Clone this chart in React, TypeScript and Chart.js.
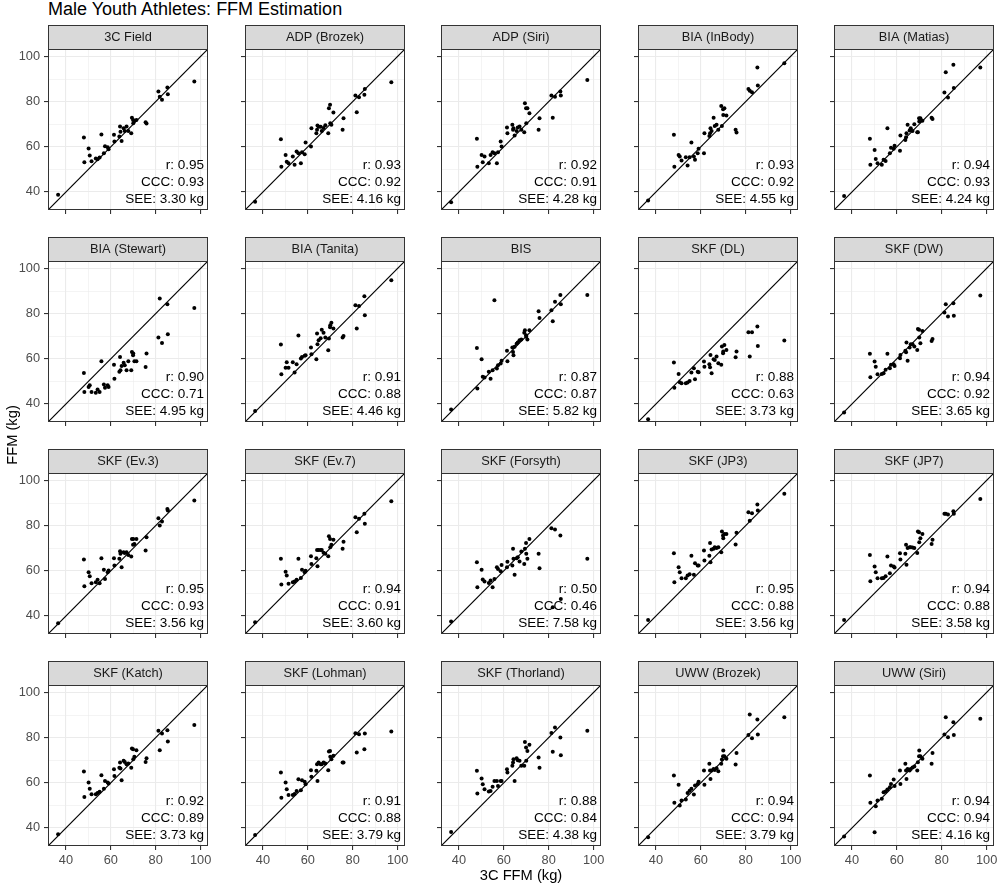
import React, { useEffect, useRef } from "react";
import { Chart, registerables } from "chart.js";

Chart.register(...registerables);

// ---------- DATA ----------
// Criterion: 3C FFM (kg), shared x values of all panels
const X_3C_FFM = [36.5, 48.0, 48.2, 50.1, 50.6, 51.4, 53.3, 54.1, 55.0, 55.8, 56.9, 57.4, 58.6, 59.0, 61.4, 61.6, 63.8, 64.1, 64.3, 64.8, 65.7, 66.2, 67.0, 67.8, 69.1, 69.4, 69.9, 70.0, 70.5, 71.4, 75.5, 75.9, 81.2, 81.8, 82.8, 85.2, 85.4, 97.2];

const Y_3C_FIELD = [38.7, 64.1, 53.1, 59.2, 56.1, 53.6, 54.8, 54.5, 55.2, 65.4, 57.1, 60.2, 59.8, 58.9, 65.3, 62.3, 64.5, 69.0, 66.7, 62.6, 68.2, 67.0, 69.0, 67.0, 66.0, 72.9, 71.9, 70.4, 71.5, 71.9, 70.9, 70.3, 84.5, 82.2, 80.8, 86.2, 83.3, 88.9];
const Y_ADP_BROZEK = [35.7, 63.3, 51.2, 56.4, 53.4, 52.7, 55.7, 52.0, 57.9, 57.1, 52.7, 57.6, 56.7, 61.9, 60.1, 68.2, 66.0, 67.5, 69.4, 68.9, 68.9, 67.0, 68.3, 69.5, 66.0, 77.1, 78.6, 70.4, 69.7, 75.2, 67.5, 72.6, 82.7, 75.3, 81.9, 83.0, 85.6, 88.6];
const Y_ADP_SIRI = [35.4, 63.5, 51.2, 56.4, 53.1, 55.7, 52.7, 56.4, 57.6, 57.1, 52.7, 57.6, 62.3, 60.1, 68.5, 66.0, 69.7, 67.5, 68.2, 65.0, 67.0, 68.5, 69.0, 67.5, 66.4, 79.3, 77.1, 70.4, 77.1, 74.9, 67.5, 72.6, 82.7, 72.9, 82.2, 84.5, 82.7, 89.6];
const Y_BIA_INBODY = [36.2, 65.3, 51.2, 56.4, 55.7, 53.9, 55.4, 51.7, 55.4, 61.9, 55.7, 54.2, 57.1, 59.1, 57.1, 66.0, 64.8, 66.0, 68.2, 67.0, 72.9, 69.2, 69.7, 67.5, 78.1, 69.2, 76.6, 74.1, 77.1, 73.8, 67.5, 66.3, 85.6, 84.8, 84.2, 95.1, 87.1, 97.0];
const Y_BIA_MATIAS = [38.2, 63.5, 52.0, 58.6, 54.6, 52.7, 52.0, 54.2, 53.7, 68.2, 57.1, 59.6, 59.1, 60.5, 58.2, 65.0, 63.0, 64.2, 66.0, 69.7, 67.2, 68.2, 67.0, 70.0, 66.4, 66.4, 72.6, 71.2, 72.6, 71.5, 72.9, 72.3, 84.0, 93.0, 81.8, 96.3, 86.0, 95.1];
const Y_BIA_STEWART = [30.0, 53.7, 45.3, 47.5, 48.3, 45.3, 44.9, 46.4, 45.3, 58.9, 48.6, 47.2, 48.3, 47.5, 57.4, 51.2, 54.2, 60.8, 54.9, 56.8, 58.2, 57.1, 54.9, 58.9, 54.9, 63.0, 61.6, 62.3, 58.9, 58.9, 56.4, 62.3, 69.4, 86.7, 67.0, 84.2, 70.9, 82.5];
const Y_BIA_TANITA = [36.9, 66.3, 53.1, 56.0, 58.5, 56.0, 58.5, 53.9, 57.6, 70.3, 60.1, 60.8, 61.3, 61.6, 65.0, 62.0, 59.8, 71.2, 66.4, 68.2, 69.1, 72.9, 71.5, 69.4, 63.8, 69.0, 74.0, 74.9, 75.9, 73.4, 69.4, 70.1, 83.7, 73.4, 83.4, 87.7, 79.3, 94.8];
const Y_BIS = [37.5, 64.8, 46.8, 59.8, 52.0, 51.7, 54.2, 51.2, 54.9, 85.9, 55.7, 57.1, 57.9, 59.1, 63.5, 58.9, 65.0, 63.0, 61.6, 65.3, 66.7, 67.2, 68.2, 68.5, 71.5, 72.6, 70.4, 69.7, 68.5, 72.6, 81.1, 78.1, 81.5, 76.6, 85.2, 88.2, 84.2, 88.2];
const Y_SKF_DL = [33.2, 58.3, 47.2, 53.3, 49.6, 49.2, 49.2, 49.5, 50.2, 53.9, 55.8, 50.9, 54.3, 54.0, 58.8, 56.5, 57.6, 56.2, 61.7, 53.6, 59.8, 59.5, 61.0, 58.0, 57.3, 65.4, 62.5, 63.2, 66.1, 63.9, 60.7, 63.2, 71.8, 61.0, 71.8, 74.3, 65.7, 68.1];
const Y_SKF_DW = [36.2, 62.2, 51.8, 58.8, 56.5, 53.1, 53.3, 53.6, 55.1, 62.2, 55.8, 57.3, 57.6, 56.8, 60.2, 61.7, 63.5, 62.9, 67.2, 59.1, 65.0, 66.4, 66.4, 65.4, 63.9, 73.2, 72.8, 69.4, 66.9, 72.3, 67.9, 68.8, 80.5, 84.2, 78.7, 84.6, 79.1, 88.0];
const Y_SKF_EV3 = [36.8, 65.0, 53.1, 59.4, 57.6, 54.5, 54.9, 56.0, 54.5, 65.6, 60.4, 56.4, 59.4, 60.1, 65.6, 62.3, 65.3, 68.7, 67.5, 61.6, 68.2, 67.9, 68.2, 67.0, 66.3, 74.1, 71.5, 74.1, 71.9, 74.1, 69.0, 74.9, 83.3, 80.0, 81.8, 87.4, 86.7, 91.1];
const Y_SKF_EV7 = [37.2, 65.3, 53.9, 59.6, 57.9, 54.2, 54.9, 55.2, 56.0, 65.3, 56.8, 60.5, 59.4, 60.0, 66.4, 63.0, 65.6, 69.2, 62.0, 69.2, 69.2, 69.2, 68.0, 67.5, 66.4, 75.3, 74.1, 70.4, 71.5, 73.7, 69.7, 72.9, 83.7, 77.1, 83.0, 85.2, 80.8, 90.8];
const Y_SKF_FORSYTH = [37.5, 63.8, 52.7, 60.5, 56.1, 55.2, 54.6, 55.7, 52.7, 56.4, 61.6, 60.8, 59.8, 62.6, 61.6, 64.0, 62.3, 69.7, 65.3, 58.2, 65.6, 66.0, 64.1, 68.5, 63.0, 69.7, 72.3, 67.5, 65.3, 74.1, 67.5, 61.1, 78.8, 43.8, 78.3, 75.6, 47.5, 65.3];
const Y_SKF_JP3 = [38.2, 67.8, 54.9, 61.6, 59.4, 56.7, 56.7, 57.9, 58.5, 66.7, 58.2, 63.3, 62.3, 62.3, 69.0, 64.5, 66.7, 72.3, 63.8, 69.4, 69.7, 70.4, 70.1, 70.4, 68.2, 77.4, 75.6, 74.4, 76.3, 76.3, 71.6, 76.8, 85.9, 82.2, 85.5, 89.3, 86.7, 94.1];
const Y_SKF_JP7 = [38.2, 67.0, 55.4, 61.9, 59.4, 56.7, 56.7, 56.8, 57.6, 66.3, 58.9, 62.3, 61.9, 61.4, 67.8, 65.0, 67.5, 71.5, 62.7, 70.1, 70.4, 70.4, 70.3, 70.1, 67.9, 77.4, 77.1, 72.6, 74.4, 76.3, 71.9, 73.7, 85.2, 85.2, 84.9, 86.4, 85.2, 91.8];
const Y_SKF_KATCH = [37.2, 65.0, 53.7, 60.1, 57.4, 54.9, 54.9, 55.5, 56.0, 63.3, 57.4, 60.8, 60.1, 59.7, 66.0, 63.0, 66.7, 69.0, 66.3, 61.1, 69.7, 69.2, 68.2, 68.5, 66.7, 75.2, 74.9, 70.4, 71.5, 74.4, 69.2, 70.9, 83.0, 74.4, 81.8, 83.3, 78.3, 85.6];
const Y_SKF_LOHMAN = [36.9, 64.5, 53.4, 60.1, 57.1, 54.6, 54.6, 55.0, 56.4, 61.6, 56.7, 61.1, 60.4, 59.4, 65.6, 62.7, 65.3, 68.2, 60.8, 69.0, 68.2, 68.2, 69.0, 68.5, 65.6, 73.8, 74.1, 71.5, 70.4, 72.0, 69.0, 69.0, 81.9, 73.4, 81.5, 74.9, 81.8, 82.7];
const Y_SKF_THORLAND = [38.2, 65.3, 55.2, 61.9, 59.4, 57.1, 56.1, 56.4, 58.2, 60.8, 60.8, 58.6, 60.8, 60.8, 66.0, 64.5, 67.5, 69.0, 70.4, 60.8, 70.9, 70.0, 69.7, 67.5, 67.5, 78.1, 75.6, 69.7, 74.1, 76.8, 71.2, 66.7, 82.0, 73.7, 84.5, 80.0, 72.2, 83.0];
const Y_UWW_BROZEK = [35.9, 63.2, 51.1, 59.1, 49.9, 52.1, 52.6, 55.5, 56.5, 57.3, 54.8, 58.8, 59.5, 60.5, 65.4, 59.1, 68.4, 65.4, 61.7, 65.4, 66.1, 65.7, 66.4, 65.1, 68.4, 70.3, 71.8, 74.3, 71.8, 70.6, 68.1, 73.2, 81.2, 90.2, 79.7, 88.0, 81.4, 89.0];
const Y_UWW_SIRI = [36.2, 63.2, 51.1, 38.1, 49.6, 52.1, 52.9, 55.8, 56.1, 57.0, 58.0, 59.5, 61.5, 58.6, 65.4, 59.5, 68.4, 65.4, 61.7, 66.1, 65.4, 66.1, 66.8, 67.2, 65.4, 69.1, 71.8, 74.3, 71.8, 70.6, 68.4, 73.2, 81.4, 89.0, 80.2, 86.8, 81.2, 88.3];

const PANEL_LABELS = ["3C Field", "ADP (Brozek)", "ADP (Siri)", "BIA (InBody)", "BIA (Matias)", "BIA (Stewart)", "BIA (Tanita)", "BIS", "SKF (DL)", "SKF (DW)", "SKF (Ev.3)", "SKF (Ev.7)", "SKF (Forsyth)", "SKF (JP3)", "SKF (JP7)", "SKF (Katch)", "SKF (Lohman)", "SKF (Thorland)", "UWW (Brozek)", "UWW (Siri)"];
const PANEL_Y = [Y_3C_FIELD, Y_ADP_BROZEK, Y_ADP_SIRI, Y_BIA_INBODY, Y_BIA_MATIAS, Y_BIA_STEWART, Y_BIA_TANITA, Y_BIS, Y_SKF_DL, Y_SKF_DW, Y_SKF_EV3, Y_SKF_EV7, Y_SKF_FORSYTH, Y_SKF_JP3, Y_SKF_JP7, Y_SKF_KATCH, Y_SKF_LOHMAN, Y_SKF_THORLAND, Y_UWW_BROZEK, Y_UWW_SIRI];
const R_VALUES = [0.95, 0.93, 0.92, 0.93, 0.94, 0.90, 0.91, 0.87, 0.88, 0.94, 0.95, 0.94, 0.50, 0.95, 0.94, 0.92, 0.91, 0.88, 0.94, 0.94];
const CCC_VALUES = [0.93, 0.92, 0.91, 0.92, 0.93, 0.71, 0.88, 0.87, 0.63, 0.92, 0.93, 0.91, 0.46, 0.88, 0.88, 0.89, 0.88, 0.84, 0.94, 0.94];
const SEE_VALUES = [3.30, 4.16, 4.28, 4.55, 4.24, 4.95, 4.46, 5.82, 3.73, 3.65, 3.56, 3.60, 7.58, 3.56, 3.58, 3.73, 3.79, 4.38, 3.79, 4.16];

const AXIS_MIN = 32;
const AXIS_MAX = 103.3;
const TICK_VALUES = [40, 50, 60, 70, 80, 90, 100];
const MAJOR_TICKS = [40, 60, 80, 100];

const TITLE = "Male Youth Athletes: FFM Estimation";
const X_TITLE = "3C FFM (kg)";
const Y_TITLE = "FFM (kg)";

// ---------- LAYOUT / STYLE ----------
const FONT = '"Liberation Sans", Arial, Helvetica, sans-serif';
const NCOL = 5;
const COL_LEFTS = [0, 197, 393, 590, 786];
const ROW_TOP0 = 25;
const ROW_STEP = 212;
const CANVAS_W = 214;
const CANVAS_H = 207;
const AXIS_W = 48;
const STRIP_H = 24;
const XAXIS_H = 22;

const isMajor = (v: number) => MAJOR_TICKS.includes(v);

const panelPlugin = {
  id: "panelDecor",
  afterDatasetsDraw(chart: any, _args: any, opts: any) {
    const { ctx, chartArea } = chart;
    const { left, right, top, bottom } = chartArea;
    ctx.save();
    // stats text
    ctx.fillStyle = "#000000";
    ctx.font = `13.5px ${FONT}`;
    ctx.textAlign = "right";
    ctx.textBaseline = "alphabetic";
    const tx = right - 4;
    ctx.fillText(`r: ${opts.r.toFixed(2)}`, tx, bottom - 41.5);
    ctx.fillText(`CCC: ${opts.ccc.toFixed(2)}`, tx, bottom - 24.3);
    ctx.fillText(`SEE: ${opts.see.toFixed(2)} kg`, tx, bottom - 7.2);
    // panel border
    ctx.strokeStyle = "#333333";
    ctx.lineWidth = 1;
    ctx.strokeRect(left + 0.5, top + 0.5, right - left - 1, bottom - top - 1);
    // strip
    ctx.fillStyle = "#D9D9D9";
    ctx.fillRect(left, top - STRIP_H, right - left, STRIP_H);
    ctx.strokeRect(left + 0.5, top - STRIP_H + 0.5, right - left - 1, STRIP_H);
    ctx.fillStyle = "#1A1A1A";
    ctx.font = `12.8px ${FONT}`;
    ctx.textAlign = "center";
    ctx.textBaseline = "middle";
    ctx.fillText(opts.label, (left + right) / 2, top - STRIP_H / 2 + 0.5);
    ctx.restore();
  },
};

function makeAxis(showLabels: boolean, isX: boolean) {
  return {
    type: "linear" as const,
    min: AXIS_MIN,
    max: AXIS_MAX,
    afterBuildTicks: (scale: any) => {
      scale.ticks = TICK_VALUES.map((v) => ({ value: v }));
    },
    afterFit: (scale: any) => {
      if (isX) scale.height = XAXIS_H;
      else scale.width = AXIS_W;
      scale.paddingLeft = 0;
      scale.paddingRight = 0;
      scale.paddingTop = 0;
      scale.paddingBottom = 0;
    },
    border: { display: false },
    grid: {
      color: "#EBEBEB",
      lineWidth: (c: any) => (c.tick && isMajor(c.tick.value) ? 1.1 : 0.55),
      drawTicks: true,
      tickLength: 4,
      tickWidth: 1.1,
      tickColor: (c: any) => (c.tick && isMajor(c.tick.value) ? "#333333" : "rgba(0,0,0,0)"),
    },
    ticks: {
      display: showLabels,
      autoSkip: false,
      maxRotation: 0,
      padding: isX ? 3 : 4,
      color: "#4D4D4D",
      font: { family: FONT, size: 12.8 },
      callback: (v: any) => (isMajor(Number(v)) ? String(v) : ""),
    },
  };
}

function Panel({ idx }: { idx: number }) {
  const ref = useRef<HTMLCanvasElement | null>(null);
  const row = Math.floor(idx / NCOL);
  const col = idx % NCOL;
  useEffect(() => {
    if (!ref.current) return;
    const points = X_3C_FFM.map((x, i) => ({ x, y: PANEL_Y[idx][i] }));
    const chart = new Chart(ref.current, {
      type: "scatter",
      data: {
        datasets: [
          {
            data: points,
            backgroundColor: "#000000",
            borderWidth: 0,
            pointRadius: 2,
            order: 2,
          } as any,
          {
            type: "line",
            data: [
              { x: AXIS_MIN, y: AXIS_MIN },
              { x: AXIS_MAX, y: AXIS_MAX },
            ],
            borderColor: "#000000",
            borderWidth: 1.2,
            pointRadius: 0,
            fill: false,
            order: 1,
          } as any,
        ],
      },
      options: {
        responsive: false,
        animation: false,
        devicePixelRatio: 1,
        layout: { autoPadding: false, padding: { top: STRIP_H, right: CANVAS_W - AXIS_W - 160, left: 0, bottom: 0 } },
        plugins: {
          legend: { display: false },
          tooltip: { enabled: false },
          title: { display: false },
          panelDecor: { label: PANEL_LABELS[idx], r: R_VALUES[idx], ccc: CCC_VALUES[idx], see: SEE_VALUES[idx] },
        } as any,
        scales: {
          x: makeAxis(row === 3, true) as any,
          y: makeAxis(col === 0, false) as any,
        },
      },
      plugins: [panelPlugin],
    });
    return () => chart.destroy();
  }, [idx]);
  return (
    <canvas
      ref={ref}
      width={CANVAS_W}
      height={CANVAS_H}
      style={{ position: "absolute", left: COL_LEFTS[col], top: ROW_TOP0 + row * ROW_STEP, width: CANVAS_W, height: CANVAS_H }}
    />
  );
}

export default function App() {
  return (
    <div style={{ position: "absolute", left: 0, top: 0, width: 1000, height: 885, background: "#FFFFFF", overflow: "hidden", fontFamily: FONT }}>
      <div style={{ position: "absolute", left: 48, top: 0, fontSize: 18, lineHeight: "18px", color: "#000000", whiteSpace: "nowrap" }}>{TITLE}</div>
      {PANEL_LABELS.map((_, i) => (
        <Panel key={i} idx={i} />
      ))}
      <div style={{ position: "absolute", left: 421, width: 200, top: 866, fontSize: 14.7, lineHeight: "18px", textAlign: "center", color: "#000000", whiteSpace: "nowrap" }}>{X_TITLE}</div>
      <div style={{ position: "absolute", left: 12, top: 435, width: 0, height: 0 }}>
        <div style={{ position: "absolute", left: -100, top: -9, width: 200, fontSize: 14.7, lineHeight: "18px", textAlign: "center", color: "#000000", whiteSpace: "nowrap", transform: "rotate(-90deg)", transformOrigin: "100px 9px" }}>{Y_TITLE}</div>
      </div>
    </div>
  );
}
